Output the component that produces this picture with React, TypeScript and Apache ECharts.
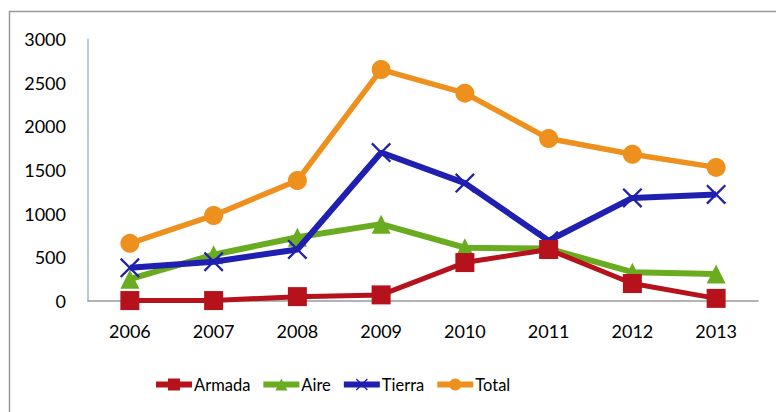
import React, { useEffect, useRef } from "react";
import * as echarts from "echarts";

const years = ["2006", "2007", "2008", "2009", "2010", "2011", "2012", "2013"];
const armada = [5, 5, 50, 70, 440, 590, 200, 30];
const aire = [250, 530, 730, 880, 610, 600, 330, 310];
const tierra = [380, 450, 590, 1700, 1350, 690, 1180, 1220];
const total = [660, 980, 1380, 2650, 2380, 1860, 1680, 1530];
const yTicks = [0, 500, 1000, 1500, 2000, 2500, 3000];

const CROSS =
  "path://M0,1.6L1.6,0L10,8.4L18.4,0L20,1.6L11.6,10L20,18.4L18.4,20L10,11.6L1.6,20L0,18.4L8.4,10Z";

const FONT = "Lato, 'Open Sans', sans-serif";

export default function App() {
  const ref = useRef<HTMLDivElement>(null);
  useEffect(() => {
    if (!ref.current) return;
    const chart = echarts.init(ref.current, undefined, { renderer: "svg" });
    const mk = (name: string, data: number[], color: string, symbol: string, size: number, width: number, z: number) => ({
      name,
      type: "line",
      data,
      symbol,
      symbolSize: size,
      z,
      lineStyle: { color, width },
      itemStyle: { color },
    });
    chart.setOption({
      animation: false,
      backgroundColor: "#ffffff",
      graphic: [
        {
          type: "rect",
          shape: { x: 9.5, y: 11.5, width: 900, height: 600 },
          style: { fill: "none", stroke: "#9a9a9a", lineWidth: 1.5 },
          silent: true,
        },
      ],
      grid: { left: 88, right: 18, top: 39, bottom: 111, containLabel: false },
      xAxis: {
        type: "category",
        data: years,
        boundaryGap: true,
        axisLine: { show: true, lineStyle: { color: "#9a9a9a", width: 1.5 } },
        axisTick: { show: false },
        axisLabel: { margin: 21, fontFamily: FONT, fontSize: 18, color: "#000" },
        splitLine: { show: false },
      },
      yAxis: {
        type: "value",
        min: yTicks[0],
        max: yTicks[yTicks.length - 1],
        interval: 500,
        axisLine: { show: true, lineStyle: { color: "#a9b9c9", width: 1.5 } },
        axisTick: { show: false },
        axisLabel: {
          margin: 22,
          fontFamily: FONT,
          fontSize: 18,
          color: "#000",
          formatter: (v: number) => String(v),
        },
        splitLine: { show: false },
      },
      legend: {
        left: 148,
        top: 371,
        itemWidth: 36,
        itemHeight: 15,
        itemGap: 10,
        lineStyle: { width: 6 },
        textStyle: { fontFamily: FONT, fontSize: 16.5, color: "#000", padding: [0, 0, 0, -3] },
        data: ["Armada", "Aire", "Tierra", "Total"],
      },
      series: [
        mk("Armada", armada, "#b5121b", "rect", 19, 5, 5),
        mk("Aire", aire, "#6aac1f", "triangle", 19, 6, 3),
        mk("Tierra", tierra, "#1f1fb0", CROSS, 20, 6, 4),
        mk("Total", total, "#ee901e", "circle", 19, 5.5, 2),
      ],
    });
    return () => chart.dispose();
  }, []);
  return (
    <div
      ref={ref}
      style={{ position: "absolute", left: 0, top: 0, width: 776, height: 412 }}
    />
  );
}
